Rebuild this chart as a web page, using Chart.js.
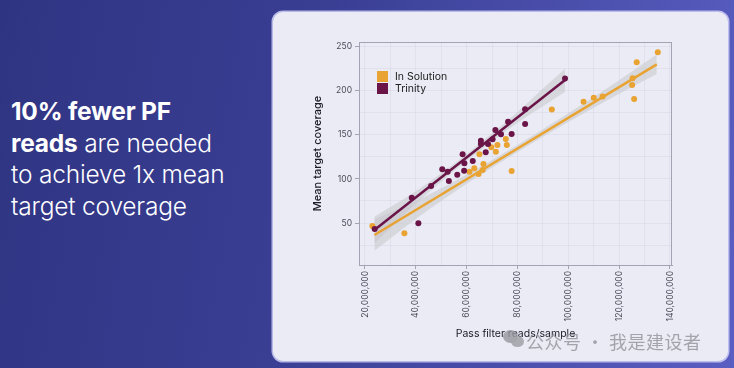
<!DOCTYPE html>
<html>
<head>
<meta charset="utf-8">
<script src="https://cdn.jsdelivr.net/npm/chart.js@4.4.1/dist/chart.umd.min.js"></script>
<style>
  html, body { margin: 0; padding: 0; }
  body {
    width: 734px; height: 368px; overflow: hidden; position: relative;
    background: linear-gradient(100deg, #2f3482 0%, #393e93 40%, #5a5ec2 100%);
    font-family: Inter, "Noto Sans", sans-serif;
  }
  .headline {
    position: absolute; left: 11px; top: 96px;
    color: #fff; font-size: 24.5px; line-height: 31.7px; font-weight: 300;
    letter-spacing: -0.2px;
  }
  .headline b { font-weight: 700; }
  .card {
    position: absolute; left: 273px; top: 12px; width: 455px; height: 349px;
    background: #ebebf5; border-radius: 10px;
    box-shadow: 0 0 0 1.5px rgba(215,215,250,0.8);
  }
  #chart { position: absolute; left: 273px; top: 12px; }
  .legend { position: absolute; left: 377px; top: 70px; font-size: 10.5px; color: #222; }
  .legend div { display: flex; align-items: center; height: 12.6px; }
  .legend span.sw { width: 11px; height: 11px; margin-right: 7px; display: inline-block; }
  .wm {
    position: absolute; left: 526px; top: 328px; font-size: 18px; color: rgba(150,150,158,0.85);
    font-family: "Noto Sans CJK SC", sans-serif; letter-spacing: 0.5px;
  }
  .wm-icon { position: absolute; border-radius: 50%; background: rgba(150,150,158,0.8); }
</style>
</head>
<body>
<div class="headline"><b>10% fewer PF</b><br><b>reads</b> are needed<br>to achieve 1x mean<br>target coverage</div>
<div class="card"></div>
<canvas id="chart" width="455" height="349"></canvas>
<div class="legend" id="legend"></div>
<div class="wm-icon" style="left:503px;top:330px;width:15px;height:13px;"></div>
<div class="wm-icon" style="left:511px;top:336px;width:13px;height:11px;background:rgba(165,165,172,0.9)"></div>
<div class="wm">公众号 · 我是建设者</div>

<script>
// ========================
// DATA (x in millions of reads)
// ========================
const seriesNames = ['In Solution', 'Trinity'];
const seriesColors = ['#e8a332', '#6a1448'];

const solutionX = [22.9, 35.5, 61.1, 63.0, 64.7, 65.0, 66.3, 66.6, 69.7, 71.5, 72.1, 75.4,
  75.8, 77.7, 93.5, 106.0, 110.0, 113.5, 125.1, 125.3, 125.9, 126.9, 135.2];
const solutionY = [46.6, 38.3, 108.2, 112, 105.6, 127.9, 110.1, 116.9, 135.9, 130.9, 138.5, 145.3,
  138.5, 109, 178.8, 187.6, 192.2, 193.5, 206.6, 214.1, 190.6, 232.2, 243.8];

const trinityX = [23.8, 38.4, 41.0, 46.0, 50.4, 52.5, 53.0, 56.3, 58.4, 59.1, 59.0, 62.4,
  65.6, 65.6, 67.5, 68.4, 70.2, 71.3, 73.5, 76.3, 77.7, 83.0, 83.0, 98.7];
const trinityY = [43.2, 78.7, 49.7, 92, 110.9, 108.2, 97.6, 104.8, 127.9, 117.7, 109.3, 120.3,
  143.4, 139.7, 130.2, 139.6, 144.9, 155.5, 150.6, 164.9, 151, 179, 162.3, 214];

// fitted lines (end points)
const solutionFitX = [23.7, 134.8];
const solutionFitY = [36.4, 230.0];
const trinityFitX = [23.7, 98.7];
const trinityFitY = [42.1, 212.2];

// confidence bands
const solutionBandX = [23.7, 40, 60, 80, 100, 120, 134.8];
const solutionBandLo = [18.5, 54.5, 94.5, 130.5, 164.5, 196.5, 219];
const solutionBandHi = [54.5, 75, 105, 138.5, 174.5, 212, 241];
const trinityBandX = [23.7, 40, 55, 65, 80, 90, 98.7];
const trinityBandLo = [27, 72, 109, 131.8, 163.8, 182.5, 199];
const trinityBandHi = [57, 86, 117, 139.8, 175.8, 202.5, 225];

// ticks
const xMajorTicks = [20, 40, 60, 80, 100, 120, 140];
const xMinorTicks = [30, 50, 70, 90, 110, 130];
const yMajorTicks = [50, 100, 150, 200, 250];
const yMinorTicks = [25, 75, 125, 175, 225];

const xTitle = 'Pass filter reads/sample';
const yTitle = 'Mean target coverage';

// ========================
// HELPERS
// ========================
const pts = (xs, ys) => xs.map((x, i) => ({ x, y: ys[i] }));
const BAND = 'rgba(196,196,200,0.5)';
const GRID = 'rgba(110,110,150,0.075)';
const FRAME = '#a3a3b3';

function pointSet(label, xs, ys, color) {
  return {
    type: 'scatter', label, data: pts(xs, ys), order: 0,
    pointRadius: 3, pointBackgroundColor: color, pointBorderWidth: 0, pointHoverRadius: 3
  };
}
function fitSet(xs, ys, color) {
  return {
    type: 'line', data: pts(xs, ys), order: 1, showLine: true,
    borderColor: color, borderWidth: 2.5, pointRadius: 0, fill: false
  };
}
function bandSet(xs, ys, fill) {
  return {
    type: 'line', data: pts(xs, ys), order: 2, showLine: true,
    borderWidth: 0, borderColor: 'transparent', backgroundColor: BAND,
    pointRadius: 0, tension: 0.4, cubicInterpolationMode: 'monotone', fill
  };
}
function tickList(major, minor) {
  return major.concat(minor).sort((a, b) => a - b).map(v => ({ value: v }));
}

// frame around the plot panel
const framePlugin = {
  id: 'frame',
  afterDraw(chart) {
    const { ctx, chartArea: a } = chart;
    ctx.save();
    ctx.strokeStyle = FRAME;
    ctx.lineWidth = 1;
    ctx.strokeRect(a.left + 0.5, a.top + 0.5, a.right - a.left - 1, a.bottom - a.top);
    ctx.restore();
  }
};

// ========================
// LEGEND (html)
// ========================
document.getElementById('legend').innerHTML = seriesNames
  .map((n, i) => `<div><span class="sw" style="background:${seriesColors[i]}"></span>${n}</div>`)
  .join('');

// ========================
// CHART
// ========================
new Chart(document.getElementById('chart'), {
  type: 'scatter',
  data: {
    datasets: [
      pointSet(seriesNames[1], trinityX, trinityY, seriesColors[1]),
      pointSet(seriesNames[0], solutionX, solutionY, seriesColors[0]),
      fitSet(trinityFitX, trinityFitY, seriesColors[1]),
      fitSet(solutionFitX, solutionFitY, seriesColors[0]),
      bandSet(trinityBandX, trinityBandHi, false),
      bandSet(trinityBandX, trinityBandLo, '-1'),
      bandSet(solutionBandX, solutionBandHi, false),
      bandSet(solutionBandX, solutionBandLo, '-1')
    ]
  },
  options: {
    responsive: false,
    animation: false,
    layout: { padding: { left: 34, right: 56, top: 30, bottom: 17 } },
    plugins: { legend: { display: false }, tooltip: { enabled: false } },
    scales: {
      x: {
        type: 'linear', min: 17.64, max: 140.79,
        afterBuildTicks: s => { s.ticks = tickList(xMajorTicks, xMinorTicks); },
        afterFit: s => { s.height = 79; },
        ticks: {
          autoSkip: false, minRotation: 90, maxRotation: 90, padding: 2,
          color: '#4a4a58', font: { size: 8.5, family: 'Inter' },
          callback: v => xMajorTicks.includes(v) ? (v * 1e6).toLocaleString('en-US') : ''
        },
        grid: {
          color: GRID, tickLength: 4,
          tickColor: c => c.tick && xMajorTicks.includes(c.tick.value) ? FRAME : 'transparent'
        },
        border: { color: FRAME },
        title: {
          display: true, text: xTitle, color: '#1c1c28',
          font: { size: 10.5, family: 'Inter' }, padding: { top: 4, bottom: 4 }
        }
      },
      y: {
        min: 2.4, max: 255.3,
        afterBuildTicks: s => { s.ticks = tickList(yMajorTicks, yMinorTicks); },
        afterFit: s => { s.width = 52; },
        ticks: {
          padding: 3, color: '#4a4a58', font: { size: 8.5, family: 'Inter' },
          callback: v => yMajorTicks.includes(v) ? String(v) : ''
        },
        grid: {
          color: GRID, tickLength: 4,
          tickColor: c => c.tick && yMajorTicks.includes(c.tick.value) ? FRAME : 'transparent'
        },
        border: { color: FRAME },
        title: {
          display: true, text: yTitle, color: '#1c1c28',
          font: { size: 11, family: 'Inter', weight: '500' }, padding: { top: 4, bottom: 4 }
        }
      }
    }
  },
  plugins: [framePlugin]
});
</script>
</body>
</html>
